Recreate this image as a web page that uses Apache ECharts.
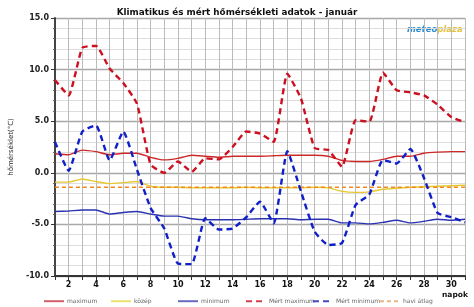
<!DOCTYPE html>
<html>
<head>
<meta charset="utf-8">
<script src="https://cdn.jsdelivr.net/npm/echarts@6/dist/echarts.min.js"></script>
<style>html,body{margin:0;padding:0;background:#fff}#c{width:474px;height:307px}</style>
</head>
<body>
<div id="c"></div>
<script>
const days = [1,2,3,4,5,6,7,8,9,10,11,12,13,14,15,16,17,18,19,20,21,22,23,24,25,26,27,28,29,30,31];
const climMax = [1.85,1.75,2.2,2.05,1.75,1.9,1.9,1.5,1.25,1.4,1.7,1.6,1.5,1.6,1.6,1.6,1.65,1.7,1.7,1.7,1.6,1.2,1.1,1.1,1.3,1.6,1.6,1.9,2.0,2.05,2.05];
const climMid = [-0.9,-0.9,-0.6,-0.85,-1.05,-0.95,-0.85,-1.3,-1.4,-1.4,-1.45,-1.45,-1.45,-1.45,-1.4,-1.45,-1.45,-1.45,-1.45,-1.4,-1.45,-1.8,-1.9,-1.85,-1.6,-1.5,-1.4,-1.35,-1.3,-1.25,-1.2];
const climMin = [-3.75,-3.7,-3.6,-3.6,-4.0,-3.85,-3.75,-4.0,-4.2,-4.2,-4.45,-4.55,-4.55,-4.55,-4.5,-4.45,-4.45,-4.45,-4.55,-4.5,-4.5,-4.85,-4.85,-4.95,-4.8,-4.6,-4.85,-4.7,-4.5,-4.6,-4.5];
const measMax = [9.0,7.5,12.1,12.3,10.1,8.7,6.7,0.8,0.0,1.1,0.1,1.4,1.3,2.5,4.0,3.8,3.0,9.6,7.2,2.4,2.2,0.6,5.1,4.95,9.7,8.0,7.8,7.5,6.6,5.4,4.9];
const measMin = [3.0,0.2,4.0,4.6,1.2,4.0,0.3,-3.4,-5.4,-8.8,-8.85,-4.4,-5.5,-5.4,-4.3,-2.8,-4.9,2.1,-1.8,-5.7,-7.0,-6.8,-3.1,-2.1,1.25,0.9,2.3,-0.5,-3.9,-4.3,-4.8];
const monthAvg = [-1.4,-1.4,-1.4,-1.4,-1.4,-1.4,-1.4,-1.4,-1.4,-1.4,-1.4,-1.4,-1.4,-1.4,-1.4,-1.4,-1.4,-1.4,-1.4,-1.4,-1.4,-1.4,-1.4,-1.4,-1.4,-1.4,-1.4,-1.4,-1.4,-1.4,-1.4];
const names = ['maximum','közép','minimum','Mért maximum','Mért minimum','havi átlag'];
const title = 'Klimatikus és mért hőmérsékleti adatok - január';
const yName = 'hőmérséklet(°C)';
const xName = 'napok';

const pair = arr => days.map((d,i)=>[d,arr[i]]);
const FONT = 'DejaVu Sans';
const chart = echarts.init(document.getElementById('c'), null, {renderer:'canvas'});

const styles = [
  {color:'#cc2a2a', width:1.4, type:'solid', lc:'#d0606a'},
  {color:'#e8c832', width:1.4, type:'solid', lc:'#ece070'},
  {color:'#2a32b0', width:1.4, type:'solid', lc:'#6a6ac0'},
  {color:'#cc1020', width:2.4, type:[6,4], lc:'#d04050'},
  {color:'#1020c8', width:2.4, type:[6,4], lc:'#4848c0'},
  {color:'#f08a20', width:1.7, type:[4,3], lc:'#e8b888'}
];
const series = [climMax, climMid, climMin, measMax, measMin, monthAvg];
const legendX = [38, 105, 172, 240, 307, 374];

chart.setOption({
  animation:false,
  backgroundColor:'#fff',
  title:{text:title,left:'center',top:3,textStyle:{fontFamily:FONT,fontSize:8.8,fontWeight:'bold',color:'#111'}},
  grid:{left:43,right:9,top:18,bottom:31,containLabel:false},
  legend: names.map((n,i)=>({
    left:legendX[i], top:293, selectedMode:false, itemWidth:20, itemHeight:8, itemGap:2,
    formatter:'{t|{name}}',
    textStyle:{fontFamily:FONT,fontSize:6,color:'#666',padding:[0,0,0,-2],rich:{t:{fontFamily:FONT,fontSize:6,color:'#666'}}},
    data:[{name:n, lineStyle:{color:styles[i].lc, width:2, type:styles[i].type}, itemStyle:{opacity:0}}]
  })),
  xAxis:{type:'value',min:1,max:31,interval:1,
    axisLine:{show:true,onZero:false,lineStyle:{color:'#333',width:2}},
    axisTick:{show:true,length:4,lineStyle:{color:'#333',width:1}},
    axisLabel:{margin:5,fontFamily:FONT,fontSize:8,fontWeight:'bold',color:'#111',formatter:v=>(v%2===0?String(v):'')},
    splitLine:{show:true,lineStyle:{color:'#bbbbbb',width:1}}
  },
  yAxis:{type:'value',min:-10,max:15,interval:5,
    name:yName,nameLocation:'middle',nameGap:33,nameRotate:90,
    nameTextStyle:{fontFamily:FONT,fontSize:7,color:'#222'},
    axisLine:{show:true,lineStyle:{color:'#444',width:2}},
    axisTick:{show:true,length:4,lineStyle:{color:'#333'}},
    axisLabel:{margin:6,fontFamily:FONT,fontSize:8,fontWeight:'bold',color:'#222',formatter:v=>v.toFixed(1)},
    splitLine:{show:true,lineStyle:{color:'#a8a8a8',width:1.3}},
    minorTick:{show:true,splitNumber:5,length:2,lineStyle:{color:'#666'}},
    minorSplitLine:{show:true,lineStyle:{color:'#dddddd',width:1}}
  },
  series: series.map((arr,i)=>({
    name:names[i], type:'line', data:pair(arr), symbol:'none', smooth:0.15,
    z: i>=3 ? (i===5?3:4) : 2,
    lineStyle:{color:styles[i].color,width:styles[i].width,type:styles[i].type},
    itemStyle:{color:styles[i].color}
  })),
  graphic:[
    {type:'text',left:442,top:291,style:{text:xName,fontFamily:FONT,fontSize:7.5,fontWeight:'bold',fill:'#111'}},
    {type:'text',left:407,top:25,style:{
      text:'{a|meteo}{b|plaza}',
      rich:{a:{fontFamily:FONT,fontSize:8.5,fontWeight:'bold',fontStyle:'italic',fill:'#2a8cd0'},
            b:{fontFamily:FONT,fontSize:8.5,fontWeight:'bold',fontStyle:'italic',fill:'#e6c040'}}
    }}
  ]
});
</script>
</body>
</html>
